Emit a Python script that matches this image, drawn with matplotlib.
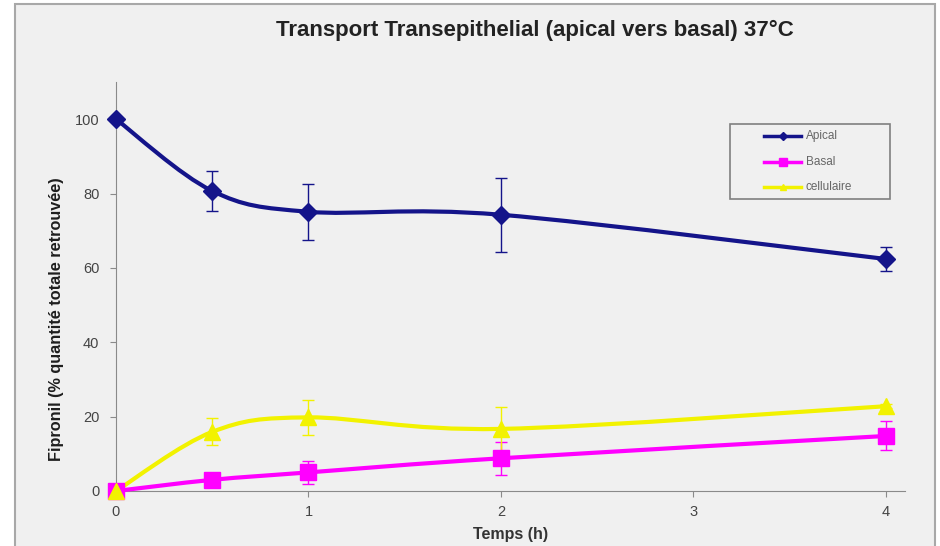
import matplotlib.pyplot as plt
import numpy as np
from matplotlib.patches import Rectangle, PathPatch
from matplotlib.path import Path
from matplotlib.lines import Line2D

plt.rcParams['font.family'] = ['Liberation Sans', 'DejaVu Sans']

temps = [0, 0.5, 1, 2, 4]
apical = [100, 80.7, 75.1, 74.3, 62.4]
apical_err = [0, 5.3, 7.5, 10.0, 3.2]
basal = [0, 3.0, 5.0, 8.8, 14.8]
basal_err = [0, 0.8, 3.0, 4.5, 3.9]
cellulaire = [0, 15.9, 19.8, 16.7, 22.8]
cellulaire_err = [0, 3.6, 4.7, 5.9, 0.5]

noms = ["Apical", "Basal", "cellulaire"]
couleurs = ["#14148a", "#ff00ff", "#f2f200"]
marqueurs = ["D", "s", "^"]
tailles = [9, 12, 11]
tailles_leg = [4, 6, 4]


def smooth_path(x, y):
    # courbe lissee type Excel (Bezier / Catmull-Rom)
    pts = np.column_stack([x, y]).astype(float)
    verts = [pts[0]]
    codes = [Path.MOVETO]
    n = len(pts)
    for i in range(n - 1):
        p0 = pts[max(i - 1, 0)]
        p1 = pts[i]
        p2 = pts[i + 1]
        p3 = pts[min(i + 2, n - 1)]
        c1 = p1 + (p2 - p0) / 6
        c2 = p2 - (p3 - p1) / 6
        verts += [c1, c2, p2]
        codes += [Path.CURVE4] * 3
    return Path(verts, codes)


W, H = 940, 546
fig = plt.figure(figsize=(9.4, 5.46), dpi=100)
fig.patch.set_facecolor("white")
fig.patches.append(Rectangle((15 / W, -0.01), 920 / W, 1 - 4 / H + 0.01,
                             transform=fig.transFigure, facecolor="#f0f0f0",
                             edgecolor="#a8a8a8", linewidth=1.5, zorder=-5))

ax = fig.add_axes([116 / W, 1 - 491 / H, (905 - 116) / W, (491 - 82) / H])
ax.set_facecolor("none")

series = [apical, basal, cellulaire]
erreurs = [apical_err, basal_err, cellulaire_err]
for vals, err, c, m, s in zip(series, erreurs, couleurs, marqueurs, tailles):
    ax.add_patch(PathPatch(smooth_path(temps, vals), facecolor="none", edgecolor=c,
                           linewidth=3, zorder=3, clip_on=False))
    ax.errorbar(temps, vals, yerr=err, fmt="none", ecolor=c, elinewidth=1,
                capsize=4, capthick=1, zorder=2, clip_on=False)
    ax.plot(temps, vals, linestyle="none", marker=m, markersize=s, color=c,
            zorder=4, clip_on=False)

ax.set_xlim(0, 4.1)
ax.set_ylim(0, 110)
ax.set_xticks([0, 1, 2, 3, 4])
ax.set_yticks([0, 20, 40, 60, 80, 100])
for sp in ["top", "right"]:
    ax.spines[sp].set_visible(False)
for sp in ["left", "bottom"]:
    ax.spines[sp].set_color("#8a8a8a")
ax.tick_params(colors="#8a8a8a", labelcolor="#444444", labelsize=10.5, length=4, direction="out")
ax.tick_params(axis="y", pad=8)
ax.tick_params(axis="x", pad=6)

ax.set_xlabel("Temps (h)", fontsize=11.5, fontweight="bold", color="#333333", labelpad=6)
fig.text(57 / W, 1 - 319 / H, "Fipronil (% quantité totale retrouvée)", rotation=90,
         ha="center", va="center", fontsize=11.7, fontweight="bold", color="#1e1e1e")
fig.text(535 / W, 1 - 30 / H, "Transport Transepithelial (apical vers basal) 37°C",
         ha="center", va="center", fontsize=16, fontweight="bold", color="#222222")

# legende dessinee a la main (cadre large comme dans Excel)
fig.patches.append(Rectangle((730 / W, 1 - 199 / H), 160 / W, 75 / H,
                             transform=fig.transFigure, facecolor="#f0f0f0",
                             edgecolor="#808080", linewidth=1.2, zorder=5))
for i, (nom, c, m, s) in enumerate(zip(noms, couleurs, marqueurs, tailles_leg)):
    yl = 1 - (136 + 25.5 * i) / H
    fig.add_artist(Line2D([764 / W, 801 / W], [yl, yl], transform=fig.transFigure,
                          color=c, linewidth=2.5, zorder=6))
    fig.add_artist(Line2D([782.5 / W], [yl], transform=fig.transFigure, color=c,
                          marker=m, markersize=s, zorder=6))
    fig.text(806 / W, yl, nom, ha="left", va="center", fontsize=8.5, color="#666666", zorder=7)

fig.savefig("out.png", dpi=100)
